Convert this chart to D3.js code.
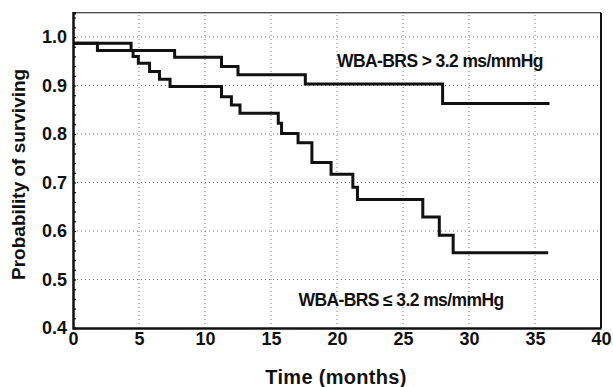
<!DOCTYPE html>
<html>
<head>
<meta charset="utf-8">
<script src="https://cdn.jsdelivr.net/npm/d3@7"></script>
<style>
  body { margin: 0; background: #fff; }
  text { font-family: "Liberation Sans", Arial, sans-serif; font-weight: bold; fill: #111; }
</style>
</head>
<body>
<svg id="chart" width="613" height="387"></svg>
<script>
// survival steps: time (months) and probability after the step
const highTimes = [0, 4.4, 7.7, 11.25, 12.5, 17.6, 28.0, 36.1];
const highSurv  = [0.987, 0.972, 0.958, 0.939, 0.922, 0.903, 0.863, 0.863];

const lowTimes = [0, 1.85, 4.55, 4.95, 5.8, 6.55, 7.35, 11.25, 12.0, 12.65, 15.55, 15.8,
                  17.05, 18.1, 19.55, 21.2, 21.55, 26.5, 27.75, 28.8, 36.0];
const lowSurv  = [0.987, 0.972, 0.960, 0.946, 0.929, 0.913, 0.898, 0.877, 0.860, 0.843, 0.822, 0.801,
                  0.782, 0.741, 0.717, 0.690, 0.665, 0.629, 0.591, 0.555, 0.555];

const xTicks = [0, 5, 10, 15, 20, 25, 30, 35, 40];
const yTicks = [0.4, 0.5, 0.6, 0.7, 0.8, 0.9, 1.0];

const highLabel = "WBA-BRS > 3.2 ms/mmHg";
const lowLabel = "WBA-BRS \u2264 3.2 ms/mmHg";

const svg = d3.select("#chart");

const x = d3.scaleLinear().domain([0, 40]).range([73, 601]);
const y = d3.scaleLinear().domain([0.4, 1.05]).range([328, 12.75]);

// grid
const grid = svg.append("g")
  .attr("stroke", "#777")
  .attr("stroke-width", 1)
  .attr("stroke-dasharray", "1,3");

grid.selectAll(".vgrid")
  .data(xTicks.slice(1, -1))
  .join("line")
    .attr("x1", d => x(d)).attr("x2", d => x(d))
    .attr("y1", y(0.4)).attr("y2", y(1.05));

grid.selectAll(".hgrid")
  .data(yTicks.slice(1))
  .join("line")
    .attr("x1", x(0)).attr("x2", x(40))
    .attr("y1", d => y(d)).attr("y2", d => y(d));

// frame: top and right thin
svg.append("line")
  .attr("x1", x(0)).attr("x2", x(40))
  .attr("y1", y(1.05)).attr("y2", y(1.05))
  .attr("stroke", "#111").attr("stroke-width", 1.2);
svg.append("line")
  .attr("x1", x(40)).attr("x2", x(40))
  .attr("y1", y(1.05)).attr("y2", y(0.4))
  .attr("stroke", "#111").attr("stroke-width", 2);

// axes
const yAxis = d3.axisLeft(y)
  .tickValues(d3.range(0.4, 1.051, 0.02))
  .tickSize(-3)
  .tickFormat("");
svg.append("g")
  .attr("transform", `translate(${x(0)},0)`)
  .call(yAxis)
  .call(g => g.select(".domain").attr("stroke", "#111").attr("stroke-width", 2.5))
  .call(g => g.selectAll(".tick line").attr("stroke", "#111").attr("stroke-width", 1.2));

svg.append("g")
  .attr("transform", `translate(${x(0)},0)`)
  .call(d3.axisLeft(y).tickValues(yTicks).tickSize(0).tickPadding(6).tickFormat(d3.format(".1f")))
  .call(g => g.select(".domain").remove())
  .call(g => g.selectAll("text").style("font-size", "18px").attr("fill", "#111"));

svg.append("g")
  .attr("transform", `translate(0,${y(0.4)})`)
  .call(d3.axisBottom(x).tickValues(xTicks).tickSize(0).tickPadding(4).tickFormat(d3.format("d")))
  .call(g => g.select(".domain").attr("stroke", "#111").attr("stroke-width", 2.5))
  .call(g => g.selectAll("text").style("font-size", "18px").attr("fill", "#111"));

// axis titles
svg.append("text")
  .attr("x", 336)
  .attr("y", 384)
  .attr("text-anchor", "middle")
  .style("font-size", "20px")
  .style("letter-spacing", "0.3px")
  .text("Time (months)");

svg.append("text")
  .attr("transform", `translate(25,${(y(0.4) + y(1.05)) / 2 + 4}) rotate(-90)`)
  .attr("text-anchor", "middle")
  .style("font-size", "19px")
  .text("Probability of surviving");

// survival curves
const step = d3.line()
  .x(d => x(d[0]))
  .y(d => y(d[1]))
  .curve(d3.curveStepAfter);

[[highTimes, highSurv], [lowTimes, lowSurv]].forEach(([t, s]) => {
  svg.append("path")
    .datum(t.map((v, i) => [v, s[i]]))
    .attr("fill", "none")
    .attr("stroke", "#111")
    .attr("stroke-width", 3)
    .attr("d", step);
});

// labels
svg.append("text")
  .attr("x", x(27.8))
  .attr("y", y(0.938))
  .attr("text-anchor", "middle")
  .style("font-size", "17.5px")
  .style("letter-spacing", "-0.6px")
  .text(highLabel);

svg.append("text")
  .attr("x", x(24.85))
  .attr("y", y(0.446))
  .attr("text-anchor", "middle")
  .style("font-size", "17.5px")
  .style("letter-spacing", "-0.6px")
  .text(lowLabel);
</script>
</body>
</html>
